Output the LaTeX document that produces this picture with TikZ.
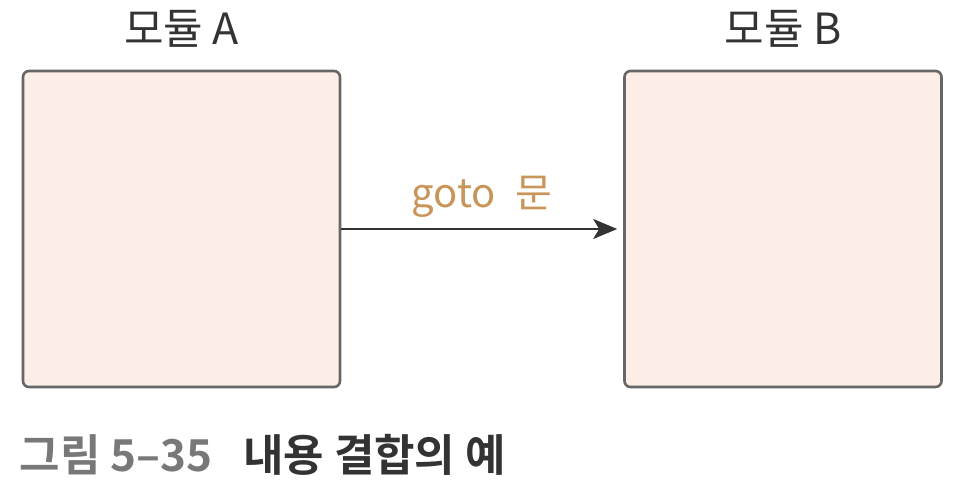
\documentclass[tikz,border=0pt]{standalone}
\usepackage{fontspec}
\setmainfont{Noto Sans CJK KR}
\newfontfamily\krbold[BoldFont={* Bold}]{Noto Sans CJK KR}
\usepackage{tikz}
\usetikzlibrary{
  arrows.meta,
  positioning
}
\usepackage{xcolor}
\definecolor{boxfill}{RGB}{252,238,230}
\definecolor{boxline}{RGB}{102,102,102}
\definecolor{inkdark}{RGB}{51,51,51}
\definecolor{gototan}{RGB}{200,150,90}
\definecolor{capgray}{RGB}{120,120,120}

\begin{document}
\begin{tikzpicture}[x=1pt, y=-1pt]
  \useasboundingbox (0,0) rectangle (956,494);

  % Two modules
  \foreach \id/\cx in {A/181.5, B/783}{
    \node[
      rectangle, rounded corners=6pt,
      draw=boxline, fill=boxfill, line width=2.6pt,
      minimum width=317pt, minimum height=316pt
    ] (M\id) at (\cx,229) {};
    \node[font=\fontsize{43}{50}\selectfont, color=inkdark,
      anchor=base] (L\id) at (\cx,45) {모듈 \id};
  }

  % Jump between them
  \draw[-{Stealth[length=24pt, width=20pt, inset=6pt]}, line width=2.2pt,
    color=inkdark, shorten >=6pt] (MA.east) -- (MB.west)
    node[midway, anchor=base, yshift=21pt, font=\fontsize{40}{46}\selectfont,
      color=gototan] (G) {goto\hspace{0.5em}문};

  % Caption
  \node[font=\krbold\bfseries\fontsize{44}{51}\selectfont, anchor=base west]
    (cap) at (16,471) {\textcolor{capgray}{그림 5–35}\hspace{0.7em}\textcolor{inkdark}{내용 결합의 예}};
\end{tikzpicture}
\end{document}
